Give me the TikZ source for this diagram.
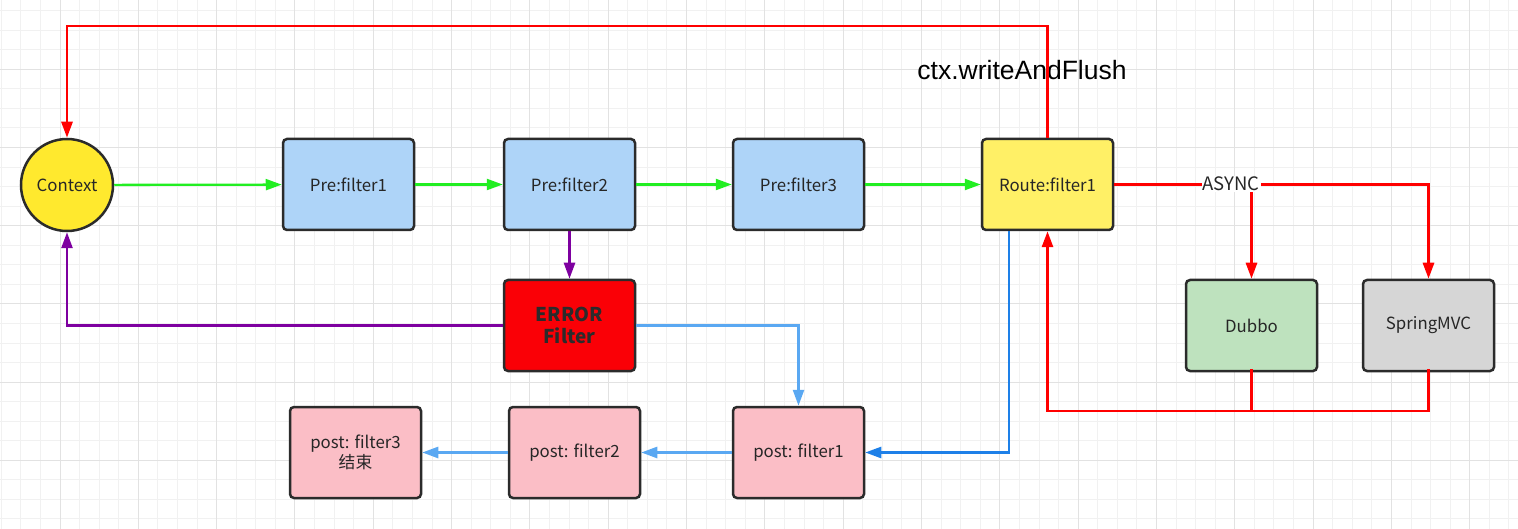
\documentclass[tikz,border=0pt]{standalone}
\usepackage{fontspec}
\setmainfont{Noto Sans CJK SC}
\newfontfamily\latinfont{Liberation Sans}
\usetikzlibrary{arrows.meta,calc}
\definecolor{gridminor}{HTML}{F1F1F1}
\definecolor{gridmajor}{HTML}{E2E2E2}
\definecolor{bordc}{HTML}{2B2B2B}
\definecolor{txtc}{HTML}{262626}
\definecolor{prefill}{HTML}{AED4F8}
\definecolor{routefill}{HTML}{FFF066}
\definecolor{ctxfill}{HTML}{FFE92E}
\definecolor{errfill}{HTML}{FA0006}
\definecolor{dubbofill}{HTML}{BEE2BE}
\definecolor{springfill}{HTML}{D6D6D6}
\definecolor{postfill}{HTML}{FBBEC6}
\definecolor{grn}{HTML}{22EE22}
\definecolor{rd}{HTML}{FF0000}
\definecolor{purp}{HTML}{7E00A0}
\definecolor{dblue}{HTML}{1E80E8}
\definecolor{lblue}{HTML}{5AA8F2}
\tikzset{
  box/.style={draw=bordc, line width=2.5pt, rounded corners=4pt, minimum width=131pt, minimum height=91pt, text=txtc, font=\fontsize{16.8}{19}\selectfont, align=center, inner sep=2pt},
  circ/.style={draw=bordc, line width=2.5pt, circle, minimum size=92pt, inner sep=0pt, fill=ctxfill, text=txtc, font=\fontsize{16.8}{19}\selectfont},
  tip/.style={-{Triangle[length=16pt,width=11pt]}},
  grnline/.style={draw=grn, line width=2.3pt, tip},
  redline/.style={draw=rd, line width=2.8pt},
  purpline/.style={draw=purp, line width=2.5pt},
  dblueline/.style={draw=dblue, line width=2.5pt},
  lblueline/.style={draw=lblue, line width=2.5pt},
}
\begin{document}
\begin{tikzpicture}[x=1pt,y=-1pt]
\useasboundingbox (0,0) rectangle (1518,529);
\fill[white] (0,0) rectangle (1518,529);
\begin{scope}
\clip (0,0) rectangle (1518,529);
\foreach \i in {-3,...,76} {
  \draw[gridminor, line width=1pt] ({60+19.58*\i},0) -- ({60+19.58*\i},529);
}
\foreach \i in {-3,...,26} {
  \draw[gridminor, line width=1pt] (0,{69.3+19.55*\i}) -- (1518,{69.3+19.55*\i});
}
\foreach \i in {-1,...,19} {
  \draw[gridmajor, line width=1pt] ({60+78.32*\i},0) -- ({60+78.32*\i},529);
}
\foreach \i in {-1,...,6} {
  \draw[gridmajor, line width=1pt] (0,{69.3+78.2*\i}) -- (1518,{69.3+78.2*\i});
}
\end{scope}

% nodes
\node[circ] (ctx) at (67,185) {Context};
\node[box, fill=prefill] (pre1) at (348.5,184.5) {Pre:filter1};
\node[box, fill=prefill] (pre2) at (569.5,184.5) {Pre:filter2};
\node[box, fill=prefill] (pre3) at (798.5,184.5) {Pre:filter3};
\node[box, fill=routefill] (route) at (1047.5,184.5) {Route:filter1};
\node[box, fill=errfill, font=\fontsize{19}{23}\selectfont\bfseries, text=bordc] (err) at (569.5,325.5) {ERROR\\[-1pt]Filter};
\node[box, fill=dubbofill] (dubbo) at (1251.5,325.5) {Dubbo};
\node[box, fill=springfill] (spring) at (1428.5,325.5) {SpringMVC};
\node[box, fill=postfill] (post1) at (798.5,452.5) {post: filter1};
\node[box, fill=postfill] (post2) at (574.5,452.5) {post: filter2};
\node[box, fill=postfill] (post3) at (355.5,452.5) {post: filter3\\[1pt]结束};

\node[font=\latinfont\fontsize{26.5}{30}\selectfont, text=black, inner sep=0pt] (wlab) at (1022,70) {ctx.writeAndFlush};

% green
\draw[grnline] (ctx) -- (pre1);
\draw[grnline] (pre1) -- (pre2);
\draw[grnline] (pre2) -- (pre3);
\draw[grnline] (pre3) -- (route);

% red top loop
\coordinate (topc) at (1047.5,26);
\draw[redline, tip] (route.north) -- (topc) -| (ctx.north);

% ASYNC
\draw[redline, tip] (route.east) -| (spring.north);
\draw[redline, tip] (dubbo.north |- route.east) -- (dubbo.north);
\node[fill=white, inner sep=1pt, text=txtc, font=\fontsize{18.5}{21}\selectfont] (async) at (1231,184) {ASYNC};

% red return
\coordinate (rb) at (1047.5,411);
\coordinate (dbot) at ([yshift=3pt]dubbo.south);
\coordinate (sbot) at ([yshift=3pt]spring.south);
\draw[redline] (dbot) -- (dbot |- rb);
\draw[redline, tip] (sbot) |- (rb) -- (route.south);

% blue from route
\coordinate (rbl) at ([xshift=28pt]route.south west);
\draw[dblueline, tip] (rbl) |- (post1.east);

% purple
\draw[purpline, tip] (pre2.south) -- (err.north);
\draw[purpline, tip] (err.west) -| (ctx.south);

% light blue
\draw[lblueline, tip] (err.east) -| (post1.north);
\draw[lblueline, tip] (post1.west) -- (post2.east);
\draw[lblueline, tip] (post2.west) -- (post3.east);
\end{tikzpicture}
\end{document}
